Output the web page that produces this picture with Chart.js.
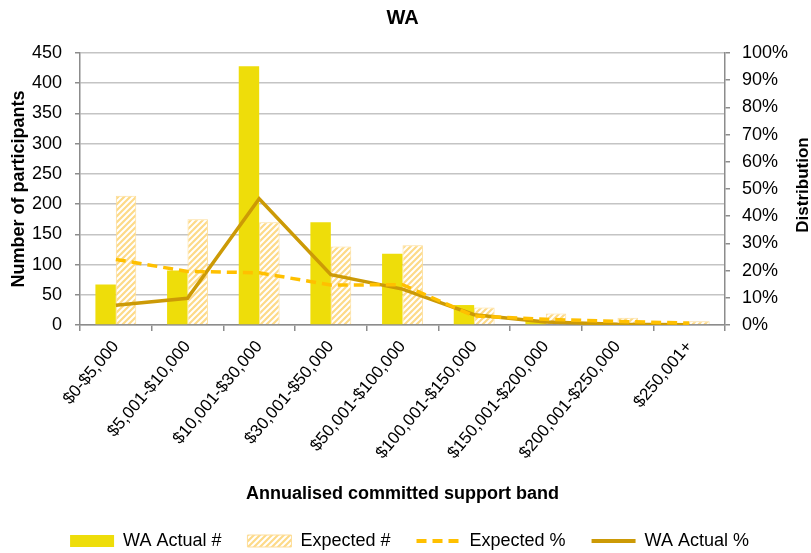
<!DOCTYPE html>
<html>
<head>
<meta charset="utf-8">
<script src="https://cdn.jsdelivr.net/npm/chart.js@4"></script>
<style>
  body { margin: 0; background: #fff; }
  #wrap { width: 811px; height: 553px; position: relative; }
</style>
</head>
<body>
<div id="wrap"><canvas id="myChart"></canvas></div>
<script>
// support bands and counts / shares per band
var bands = ["$0-$5,000", "$5,001-$10,000", "$10,001-$30,000", "$30,001-$50,000",
             "$50,001-$100,000", "$100,001-$150,000", "$150,001-$200,000",
             "$200,001-$250,000", "$250,001+"];
var actualCount = [67, 90, 428, 170, 118, 33, 8, 2, 1];
var expectedCount = [214, 175, 170, 130, 132, 29, 19, 12, 6];
var expectedPct = [24.1, 19.7, 19.2, 14.7, 14.8, 3.3, 2.1, 1.3, 0.7];
var actualPct = [7.3, 9.8, 46.4, 18.5, 13.2, 3.8, 1.1, 0.3, 0.1];

var countTicks = {min: 0, max: 450, step: 50};
var pctTicks = {min: 0, max: 100, step: 10};

var fontFamily = "'Liberation Sans', Arial, sans-serif";

// diagonal white stripes over pale orange, like the "wide upward diagonal" fill
function makeHatch() {
    var c = document.createElement("canvas");
    c.width = 6; c.height = 6;
    var g = c.getContext("2d");
    g.fillStyle = "#FDDA88";
    g.fillRect(0, 0, 6, 6);
    g.strokeStyle = "#ffffff";
    g.lineWidth = 2;
    g.beginPath();
    g.moveTo(-1, 7); g.lineTo(7, -1);
    g.moveTo(-4, 4); g.lineTo(4, -4);
    g.moveTo(2, 10); g.lineTo(10, 2);
    g.stroke();
    return g.createPattern(c, "repeat");
}

// chart title centred over the plot area, and a right axis title
// that reads bottom-to-top like the left one
var extraTitles = {
    id: "extraTitles",
    afterDraw: function(chart) {
        var area = chart.chartArea;
        var c = chart.ctx;
        c.save();
        c.fillStyle = "#000";
        c.textAlign = "center";
        c.textBaseline = "middle";
        c.font = "bold 20px " + fontFamily;
        c.fillText("WA", (area.left + area.right) / 2, 18);
        c.translate(803, (area.top + area.bottom) / 2 - 4);
        c.rotate(-Math.PI / 2);
        c.font = "bold 17px " + fontFamily;
        c.fillText("Distribution", 0, 0);
        c.restore();
    }
};

document.addEventListener('DOMContentLoaded', function() {
    Chart.defaults.font.family = fontFamily;
    Chart.defaults.color = "#000";

    var hatch = makeHatch();
    var axisGray = "#8c8c8c";
    var titleFont = {size: 18, weight: "bold", lineHeight: 1};

    var ctx = document.getElementById("myChart");
    var myChart = new Chart(ctx, {
        type: 'bar',
        data: {
            labels: bands,
            datasets: [
                {
                    label: "WA Actual #",
                    data: actualCount,
                    backgroundColor: "#EEDD0A",
                    borderWidth: 0,
                    yAxisID: "y",
                    order: 3
                },
                {
                    label: "Expected #",
                    data: expectedCount,
                    backgroundColor: hatch,
                    borderColor: "#FDDD98",
                    borderWidth: 1,
                    yAxisID: "y",
                    order: 3
                },
                {
                    type: "line",
                    label: "Expected %",
                    data: expectedPct,
                    borderColor: "#FFC000",
                    backgroundColor: "#FFC000",
                    borderWidth: 3.5,
                    borderDash: [10, 6],
                    pointRadius: 0,
                    tension: 0,
                    yAxisID: "y1",
                    order: 1
                },
                {
                    type: "line",
                    label: "WA Actual %",
                    data: actualPct,
                    borderColor: "#CC9A06",
                    backgroundColor: "#CC9A06",
                    borderWidth: 3.5,
                    pointRadius: 0,
                    tension: 0,
                    yAxisID: "y1",
                    order: 2
                }
            ]
        },
        options: {
            responsive: true,
            maintainAspectRatio: false,
            animation: false,
            // top padding leaves room for the title drawn by extraTitles
            layout: {padding: {left: 8, right: 0, top: 53, bottom: -7}},
            datasets: {
                bar: {barPercentage: 1, categoryPercentage: 0.57}
            },
            scales: {
                x: {
                    grid: {drawOnChartArea: false, offset: true, color: axisGray, tickLength: 6, lineWidth: 1.5},
                    border: {color: axisGray, width: 1.5},
                    ticks: {autoSkip: false, minRotation: 50, maxRotation: 50, padding: 6, font: {size: 17}},
                    title: {display: true, text: "Annualised committed support band", font: titleFont,
                            padding: {top: 0, bottom: 3}},
                    afterFit: function(scale) { scale.height = 181; }
                },
                y: {
                    position: "left",
                    min: countTicks.min,
                    max: countTicks.max,
                    ticks: {stepSize: countTicks.step, padding: 13, font: {size: 18}},
                    grid: {color: "#C4C4C4", lineWidth: 1.5, tickLength: 5, tickColor: axisGray},
                    border: {color: axisGray, width: 1.5},
                    title: {display: true, text: "Number of participants", font: titleFont, padding: {top: 2, bottom: 0}},
                    afterFit: function(scale) { scale.width = 72; }
                },
                y1: {
                    position: "right",
                    min: pctTicks.min,
                    max: pctTicks.max,
                    ticks: {stepSize: pctTicks.step, padding: 12, font: {size: 18},
                            callback: function(v) { return v + "%"; }},
                    grid: {drawOnChartArea: false, color: axisGray, tickLength: 5, lineWidth: 1.5},
                    border: {color: axisGray, width: 1.5},
                    afterFit: function(scale) { scale.width = 86; }
                }
            },
            plugins: {
                title: {display: false},
                tooltip: {enabled: false},
                legend: {
                    position: "bottom",
                    labels: {
                        usePointStyle: true,
                        pointStyleWidth: 44,
                        boxHeight: 12,
                        padding: 26,
                        font: {size: 18},
                        // keep dataset order; bars as boxes, series as short lines
                        generateLabels: function(chart) {
                            return chart.data.datasets.map(function(ds, i) {
                                var isLine = ds.type === "line";
                                return {
                                    text: ds.label,
                                    datasetIndex: i,
                                    fillStyle: ds.backgroundColor,
                                    strokeStyle: isLine ? ds.borderColor : (ds.borderColor || ds.backgroundColor),
                                    lineWidth: isLine ? 4 : (ds.borderWidth || 0),
                                    lineDash: ds.borderDash || [],
                                    pointStyle: isLine ? "line" : "rect",
                                    fontColor: "#000",
                                    hidden: false
                                };
                            });
                        }
                    }
                }
            }
        },
        plugins: [extraTitles]
    });
});
</script>
</body>
</html>
